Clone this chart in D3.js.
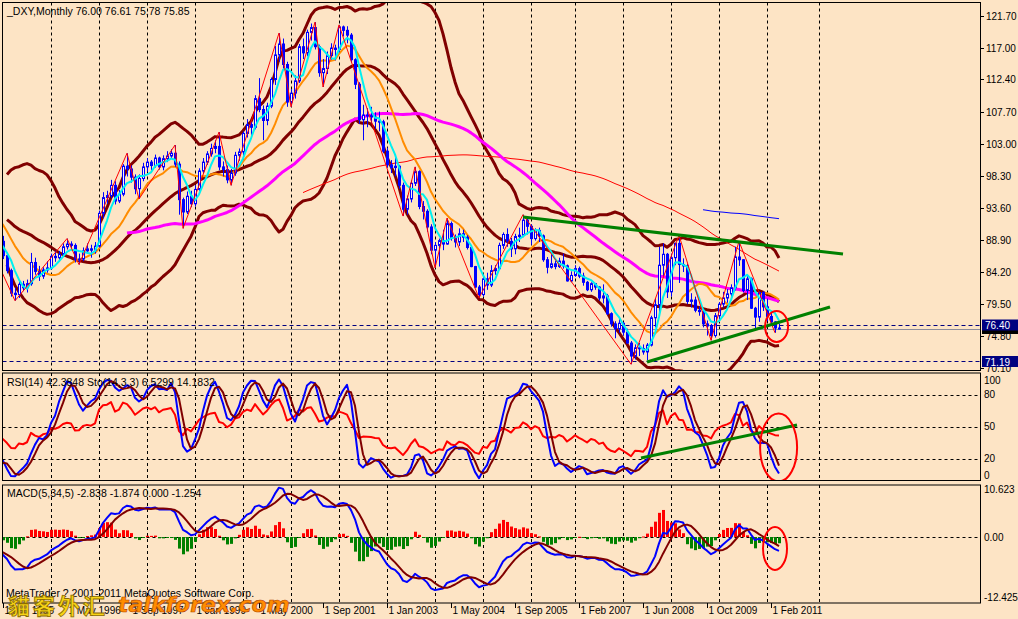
<!DOCTYPE html>
<html><head><meta charset="utf-8">
<script src="https://cdn.jsdelivr.net/npm/d3@7"></script>
<style>body{margin:0;background:#fde4c5;}svg{display:block}</style>
</head><body><svg id="c" width="1018" height="619"></svg>
<script>
// ---- DATA (monthly DXY; first 24 bars are history before the visible window) ----
const PRE = 24;
const opens = [
93.2,93.6,94.6,93.0,89.5,89.3,93.0,95.4,93.1,91.5,93.6,96.0,
96.9,97.2,95.3,94.6,93.4,93.6,89.9,90.5,90.6,88.9,86.5,88.9,
88.7,86.6,84.4,81.1,80.9,82.4,81.9,82.5,85.6,84.3,83.6,84.5,
84.8,86.5,86.3,86.8,87.9,88.3,88.1,86.0,86.1,87.3,87.6,87.4,
88.0,92.8,95.1,95.4,96.9,94.6,95.6,99.7,99.3,98.1,96.4,97.9,
99.6,100.3,99.8,100.9,99.6,100.8,101.2,101.6,100.0,94.8,93.0,95.3,
94.2,96.3,99.0,100.3,101.5,102.3,102.6,99.6,99.2,97.7,98.7,101.3,
101.8,104.5,105.8,105.4,109.6,108.0,106.4,108.5,112.4,116.0,117.6,114.6,
109.1,110.4,112.2,117.2,116.3,119.3,120.0,117.2,113.4,114.0,115.9,117.0,
116.8,120.1,119.6,118.9,115.3,111.7,106.5,107.2,107.1,106.9,106.3,106.2,
101.9,99.9,99.5,99.7,96.9,93.4,94.9,97.2,98.9,93.8,93.1,90.8,
87.4,88.1,88.8,88.3,91.3,89.2,88.6,89.8,89.3,87.8,85.0,82.0,
80.9,83.2,82.3,84.4,84.7,88.1,89.7,88.7,87.6,89.4,89.6,91.8,
90.9,89.1,90.3,89.5,86.0,84.9,85.4,85.0,85.8,85.1,82.9,
83.7,84.7,83.6,82.7,81.6,82.5,82.0,80.4,80.7,78.1,76.6,75.9,
76.7,75.4,73.8,71.9,73.1,73.0,72.5,73.5,77.5,79.4,85.2,86.8,
81.3,86.3,88.4,85.3,85.1,79.9,80.1,78.6,78.4,76.6,76.3,74.9,
77.8,79.5,80.4,81.0,81.9,86.4,86.0,81.5,83.2,78.9,77.6,81.2,
79.1,77.7,76.9,76.00];
const highs = [
94.8,95.9,95.2,93.5,90.6,93.4,96.2,95.6,93.5,94.0,96.6,97.6,
98.1,97.6,96.0,95.0,94.3,93.9,91.4,91.6,90.9,89.2,89.6,89.8,
89.5,87.0,84.7,81.9,83.0,82.9,83.1,87.0,86.3,85.1,84.9,85.8,
86.9,87.3,87.3,88.4,89.1,88.7,88.4,86.9,87.8,88.4,88.2,88.6,
93.2,95.9,96.1,97.7,97.5,96.2,100.0,101.6,99.8,98.5,98.5,100.2,
100.9,100.6,101.4,101.1,101.3,101.9,102.2,102.8,100.4,95.1,96.0,96.1,
96.9,99.4,100.9,101.9,103.0,103.5,104.7,100.4,99.8,99.3,101.8,102.3,
104.8,106.6,106.2,110.1,112.6,108.6,109.0,112.7,117.3,119.2,118.4,115.0,
111.0,113.0,117.6,118.4,119.7,120.6,120.8,117.5,115.4,116.5,117.7,117.5,
120.4,120.3,120.2,119.2,115.5,112.0,108.7,108.2,108.4,107.6,107.7,106.5,
102.4,100.6,101.1,99.9,97.3,95.4,97.6,99.6,99.1,94.6,93.4,91.2,
88.6,89.1,90.4,92.1,91.6,89.7,90.6,90.4,89.6,88.0,85.1,82.3,
83.5,84.1,85.2,85.2,88.5,90.0,90.6,89.2,89.8,90.7,92.6,92.3,
91.2,90.6,90.7,89.7,86.4,87.0,85.9,86.3,86.9,85.3,84.3,
85.2,85.0,84.1,82.9,82.7,82.6,82.1,82.4,81.0,78.3,77.0,77.4,
76.9,75.9,74.1,73.6,73.8,73.6,73.8,77.8,80.4,87.9,88.4,87.0,
86.9,88.5,89.6,86.2,85.4,81.1,80.6,79.2,78.7,77.1,76.6,78.2,
79.8,81.3,81.7,82.4,87.9,88.7,86.1,83.6,83.4,79.1,81.4,81.4,
80.3,78.3,77.0,76.61];
const lows = [
91.9,93.0,92.4,88.9,88.1,88.9,92.8,92.7,90.6,91.1,93.4,95.3,
96.2,94.9,93.8,92.6,92.3,89.6,88.8,89.9,88.4,85.8,86.2,88.1,
86.1,84.0,80.6,80.0,80.4,81.4,81.2,82.2,83.8,82.9,83.2,84.1,
84.5,85.7,85.7,86.5,87.5,87.6,85.6,85.3,85.8,86.9,86.3,86.9,
87.8,92.1,94.2,95.0,94.1,94.3,95.3,98.2,97.3,95.6,94.9,97.5,
98.9,99.1,99.5,99.2,99.1,100.3,100.9,99.6,92.6,90.6,92.7,93.7,
93.8,96.1,98.6,99.9,101.1,101.6,99.1,98.2,97.2,96.9,98.3,100.5,
101.2,103.9,104.3,105.1,107.6,103.5,105.7,108.2,111.6,115.0,114.0,108.4,
108.4,109.6,111.9,115.4,115.8,118.1,116.8,112.8,111.3,113.2,115.3,115.2,
116.4,118.7,117.7,114.9,111.0,105.9,103.5,105.4,106.0,105.2,104.8,101.6,
99.5,98.7,98.2,96.4,92.4,92.6,94.4,96.8,93.4,91.9,90.1,86.8,
84.8,85.0,87.4,88.2,88.8,87.8,88.0,88.6,87.5,84.9,81.9,80.4,
80.6,81.6,82.0,83.8,84.5,87.6,87.9,86.4,86.8,88.6,89.3,89.7,
88.2,88.8,88.6,85.7,84.0,84.7,84.6,84.8,84.7,82.8,82.7,
83.5,83.3,82.2,81.4,81.3,81.6,80.0,79.6,77.9,76.2,74.5,75.3,
74.9,73.7,70.7,71.4,71.9,72.1,71.3,73.3,76.1,78.2,83.6,80.4,
80.6,85.2,82.6,84.2,79.5,79.0,78.3,77.8,76.1,74.9,74.2,74.6,
76.9,79.0,79.7,80.1,81.5,85.1,81.2,80.1,78.8,75.6,76.9,78.5,
77.0,76.3,75.3,75.78];
const closes = [
93.6,94.6,93.0,89.5,89.3,93.0,95.4,93.1,91.5,93.6,96.0,96.9,
97.2,95.3,94.6,93.4,93.6,89.9,90.5,90.6,88.9,86.5,88.9,88.7,
86.6,84.4,81.1,80.9,82.4,81.9,82.5,85.6,84.3,83.6,84.5,84.8,
86.5,86.3,86.8,87.9,88.3,88.1,86.0,86.1,87.3,87.6,87.4,88.0,
92.8,95.1,95.4,96.9,94.6,95.6,99.7,99.3,98.1,96.4,97.9,99.6,
100.3,99.8,100.9,99.6,100.8,101.2,101.6,100.0,94.8,93.0,95.3,94.2,
96.3,99.0,100.3,101.5,102.3,102.6,99.6,99.2,97.7,98.7,101.3,101.8,
104.5,105.8,105.4,109.6,108.0,106.4,108.5,112.4,116.0,117.6,114.6,109.1,
110.4,112.2,117.2,116.3,119.3,120.0,117.2,113.4,114.0,115.9,117.0,116.8,
120.1,119.6,118.9,115.3,111.7,106.5,107.2,107.1,106.9,106.3,106.2,101.9,
99.9,99.5,99.7,96.9,93.4,94.9,97.2,98.9,93.8,93.1,90.8,87.4,
88.1,88.8,88.3,91.3,89.2,88.6,89.8,89.3,87.8,85.0,82.0,80.9,
83.2,82.3,84.4,84.7,88.1,89.7,88.7,87.6,89.4,89.6,91.8,90.9,
89.1,90.3,89.5,86.0,84.9,85.4,85.0,85.8,85.1,82.9,83.7,
84.7,83.6,82.7,81.6,82.5,82.0,80.4,80.7,78.1,76.6,75.9,76.7,
75.4,73.8,71.9,73.1,73.0,72.5,73.5,77.5,79.4,85.2,86.8,81.3,
86.3,88.4,85.3,85.1,79.9,80.1,78.6,78.4,76.6,76.3,74.9,77.8,
79.5,80.4,81.0,81.9,86.4,86.0,81.5,83.2,78.9,77.6,81.2,79.1,
77.7,76.9,76.0,75.85];

const dateLabels = ["1 Jan 1995","1 May 1996","1 Sep 1997","1 Jan 1999","1 May 2000","1 Sep 2001","1 Jan 2003","1 May 2004","1 Sep 2005","1 Feb 2007","1 Jun 2008","1 Oct 2009","1 Feb 2011"];
const dateLabelBars = [0,16,32,48,64,80,96,112,128,144,160,176,192];
const gridBars = [12,24,36,48,60,72,84,96,108,120,132,143,155,167,179,191,204];
const priceTicks = [121.70,117.00,112.40,107.70,103.00,98.30,93.60,88.90,84.20,79.50,74.80,70.10];
const rsiLevels = [80,50,20];
const rsiAxisLabels = [100,80,50,20,0];
const macdAxisLabels = [10.623,0,-12.425];
// zigzag pivots (visible bar index, price)
const zzBars   = [-2,3,16,19,31,34,43,45,54,57,69,72,78,80,84,100,103,108,111,119,130,157,169,177,184,193];
const zzPrices = [86.4,80.0,89.1,85.3,101.6,94.9,102.8,90.6,104.7,96.9,119.2,108.4,120.8,111.3,120.4,92.4,99.6,84.8,92.1,80.4,92.6,70.7,89.6,74.2,88.7,75.3];
// trend lines (bar, value)
const trendUpperBars = [130,210], trendUpperPrices = [92.26,86.84];
const trendLowerBars = [161,206.75], trendLowerPrices = [71.03,79.08];
const rsiTrendBars = [159.5,198.5], rsiTrendValues = [20.9,51.8];
const levelLines = [76.40,71.19];
const bidPrice = 75.85;

// ---- helpers ----
const bg = "#fde4c5";
const N = closes.length;
function sma(a,p){return a.map((_,i)=> i<p-1?null:d3.mean(a.slice(i-p+1,i+1)));}
function ema(a,p){const k=2/(p+1);const r=[];a.forEach((v,i)=>r.push(i===0?v:r[i-1]+k*(v-r[i-1])));return r;}
function bands(a,p,dev){const m=sma(a,p);const up=[],lo=[];
  a.forEach((_,i)=>{if(m[i]==null){up.push(null);lo.push(null);return;}
   const s=a.slice(i-p+1,i+1);const sd=Math.sqrt(d3.mean(s.map(v=>(v-m[i])**2)));
   up.push(m[i]+dev*sd);lo.push(m[i]-dev*sd);});return {m,up,lo};}
function rsi(c,p){const out=Array(c.length).fill(null);let g=0,l=0;
  for(let i=1;i<=p;i++){const d=c[i]-c[i-1];if(d>0)g+=d;else l-=d;}
  g/=p;l/=p;out[p]=l===0?100:100-100/(1+g/l);
  for(let i=p+1;i<c.length;i++){const d=c[i]-c[i-1];g=(g*(p-1)+(d>0?d:0))/p;l=(l*(p-1)+(d<0?-d:0))/p;out[i]=l===0?100:100-100/(1+g/l);}
  return out;}
function stoch(h,l,c,kp,sl,dp){const LL=[],HH=[];
  for(let i=0;i<c.length;i++){if(i<kp-1){LL.push(null);HH.push(null);continue;}
    LL.push(d3.min(l.slice(i-kp+1,i+1)));HH.push(d3.max(h.slice(i-kp+1,i+1)));}
  const k=c.map((_,i)=>{if(i<kp-1+sl-1)return null;let a=0,b=0;for(let j=i-sl+1;j<=i;j++){a+=c[j]-LL[j];b+=HH[j]-LL[j];}return b===0?100:100*a/b;});
  const d=k.map((_,i)=>{const s=k.slice(Math.max(0,i-dp+1),i+1);return (i<dp-1||s.some(v=>v==null))?null:d3.mean(s);});
  return {k,d};}

const bb = bands(closes,26,2);
const maCyan = sma(closes,5), maOrange = sma(closes,13), maMag = sma(closes,56), maRed = sma(closes,100), maBlue = sma(closes,200);
const rsiV = rsi(closes,14);
const st = stoch(highs,lows,closes,14,3,3);
const e5 = ema(closes,5), e34 = ema(closes,34);
const macd = closes.map((_,i)=>e5[i]-e34[i]);
const sig = macd.map((_,i)=> i<4?null:d3.mean(macd.slice(i-4,i+1)));
const hist = macd.map((v,i)=> sig[i]==null?null:(v-sig[i])*1.3);

// ---- layout & scales ----
const svg = d3.select("#c");
const L=2.5, R=980.5;
const x = d3.scaleLinear().domain([0,194]).range([3,779]);
const y = d3.scaleLinear().domain([121.70,76.40]).range([16,325.3]);
const yr = d3.scaleLinear().domain([0,100]).range([480.3,373.6]);
const ym = d3.scaleLinear().domain([0,10.623]).range([537,485.5]);
const panels = {main:[2.5,370.5], rsi:[373,480.5], macd:[485,603]};
const font = "Liberation Sans, Arial, sans-serif";

svg.append("rect").attr("width",1018).attr("height",619).attr("fill",bg);
const defs = svg.append("defs");
Object.entries(panels).forEach(([k,[t,b]])=>{
  defs.append("clipPath").attr("id","clip-"+k).append("rect").attr("x",L).attr("y",t).attr("width",R-L).attr("height",b-t);
});

// vertical grid lines
const grid = svg.append("g").attr("stroke","#000").attr("stroke-width",1).attr("stroke-dasharray","3,3");
Object.values(panels).forEach(([t,b])=>{
  gridBars.forEach(g=>{const gx=Math.round(x(g))+0.5;grid.append("line").attr("x1",gx).attr("x2",gx).attr("y1",t).attr("y2",b);});
});
// horizontal levels
rsiLevels.forEach(v=>svg.append("line").attr("x1",L).attr("x2",R).attr("y1",Math.round(yr(v))+0.5).attr("y2",Math.round(yr(v))+0.5).attr("stroke","#000").attr("stroke-dasharray","3,3"));
svg.append("line").attr("x1",L).attr("x2",R).attr("y1",Math.round(ym(0))+0.5).attr("y2",Math.round(ym(0))+0.5).attr("stroke","#000").attr("stroke-dasharray","3,3");
levelLines.forEach(v=>svg.append("line").attr("x1",L).attr("x2",R).attr("y1",Math.round(y(v))+0.5).attr("y2",Math.round(y(v))+0.5).attr("stroke","#000080").attr("stroke-dasharray","4,3"));
svg.append("line").attr("x1",L).attr("x2",R).attr("y1",Math.round(y(bidPrice))+0.5).attr("y2",Math.round(y(bidPrice))+0.5).attr("stroke","#8c8c9c");

const idx = d3.range(N).filter(i=>i-PRE>=-1);
function series(g, arr, ys, color, w){
  const ln = d3.line().defined(i=>arr[i]!=null).x(i=>x(i-PRE)).y(i=>ys(arr[i]));
  g.append("path").attr("d",ln(idx)).attr("fill","none").attr("stroke",color).attr("stroke-width",w).attr("stroke-linejoin","round");
}

// ---- main panel ----
const gm = svg.append("g").attr("clip-path","url(#clip-main)");
series(gm,bb.up,y,"#800000",3); series(gm,bb.m,y,"#800000",3); series(gm,bb.lo,y,"#800000",3);
series(gm,maRed,y,"#ff0000",1);
series(gm,maBlue,y,"#0000ff",1);
series(gm,maMag,y,"#ff00ff",3);
series(gm,maOrange,y,"#ff8c00",2);
// candles
const cg = gm.append("g");
for(let i=PRE;i<N;i++){
  const cx = Math.round(x(i-PRE));
  cg.append("line").attr("x1",cx+0.5).attr("x2",cx+0.5).attr("y1",y(highs[i])).attr("y2",y(lows[i])).attr("stroke","#0000ff");
  const top=y(Math.max(opens[i],closes[i])), bot=y(Math.min(opens[i],closes[i]));
  const bear = closes[i]<opens[i];
  cg.append("rect").attr("x",cx-0.5).attr("y",top).attr("width",2).attr("height",Math.max(1,bot-top))
    .attr("fill",bear?"#0000ff":"#fff6ee").attr("stroke","#0000ff").attr("stroke-width",1);
}
series(gm,maCyan,y,"#00f0f0",2);
// zigzag
gm.append("path").attr("d",d3.line().x(i=>x(zzBars[i])).y(i=>y(zzPrices[i]))(d3.range(zzBars.length)))
  .attr("fill","none").attr("stroke","#ff0000").attr("stroke-width",1);
// trend lines
[[trendUpperBars,trendUpperPrices],[trendLowerBars,trendLowerPrices]].forEach(([b,p])=>{
  gm.append("line").attr("x1",x(b[0])).attr("y1",y(p[0])).attr("x2",x(b[1])).attr("y2",y(p[1])).attr("stroke","#008000").attr("stroke-width",3);
});
gm.append("ellipse").attr("cx",x(193.4)).attr("cy",y(76.23)).attr("rx",11.5).attr("ry",15.5).attr("fill","none").attr("stroke","#ff0000").attr("stroke-width",2);

// ---- RSI panel ----
const gr = svg.append("g").attr("clip-path","url(#clip-rsi)");
series(gr,rsiV,yr,"#ff0000",2);
series(gr,st.k,yr,"#0000ff",2);
series(gr,st.d,yr,"#800000",2);
gr.append("line").attr("x1",x(rsiTrendBars[0])).attr("y1",yr(rsiTrendValues[0])).attr("x2",x(rsiTrendBars[1])).attr("y2",yr(rsiTrendValues[1])).attr("stroke","#008000").attr("stroke-width",3);
gr.append("ellipse").attr("cx",x(193.9)).attr("cy",yr(30.7)).attr("rx",18.5).attr("ry",34).attr("fill","none").attr("stroke","#ff0000").attr("stroke-width",2);

// ---- MACD panel ----
const gc = svg.append("g").attr("clip-path","url(#clip-macd)");
for(let i=PRE;i<N;i++){ if(hist[i]==null) continue;
  const cx=Math.round(x(i-PRE)); const y0=ym(0), y1=ym(hist[i]);
  gc.append("rect").attr("x",cx-1).attr("width",3).attr("y",Math.min(y0,y1)).attr("height",Math.max(1,Math.abs(y1-y0)))
    .attr("fill",hist[i]>=0?"#ff0000":"#008000");
}
series(gc,macd,ym,"#0000ff",2);
series(gc,sig,ym,"#800000",2);
gc.append("ellipse").attr("cx",x(193.0)).attr("cy",ym(-2.35)).attr("rx",12).attr("ry",21.5).attr("fill","none").attr("stroke","#ff0000").attr("stroke-width",2);

// ---- frames ----
Object.values(panels).forEach(([t,b])=>svg.append("rect").attr("x",L).attr("y",t).attr("width",R-L).attr("height",b-t).attr("fill","none").attr("stroke","#000"));

// ---- axis labels ----
const ax = svg.append("g").attr("font-family",font).attr("font-size","10px").attr("fill","#000");
priceTicks.forEach(p=>{const ty=Math.round(y(p))+0.5;
  ax.append("line").attr("x1",981).attr("x2",984).attr("y1",ty).attr("y2",ty).attr("stroke","#000");
  ax.append("text").attr("x",986).attr("y",ty+3.5).text(p.toFixed(2));});
// price boxes
svg.append("rect").attr("x",982).attr("y",329).attr("width",36).attr("height",5).attr("fill","#000");
[[76.40,319.5],[71.19,356]].forEach(([v,ty])=>{
  svg.append("rect").attr("x",982).attr("y",ty).attr("width",36).attr("height",11).attr("fill","#000080");
  svg.append("text").attr("x",985).attr("y",ty+9.5).attr("font-family",font).attr("font-size","10px").attr("fill","#fff").text(v.toFixed(2));
});
rsiAxisLabels.forEach(v=>{let ty=yr(v); if(v===100) ty=380; if(v===0) ty=475;
  ax.append("text").attr("x",984).attr("y",ty+3.5).text(v);});
macdAxisLabels.forEach(v=>{let ty=ym(v); if(v>5) ty=489; if(v<-5) ty=597;
  ax.append("text").attr("x",984).attr("y",ty+3.5).text(v===0?"0.00":v.toFixed(3));});
// date axis
dateLabels.forEach((t,i)=>{const tx=Math.round(x(dateLabelBars[i]))+0.5;
  ax.append("line").attr("x1",tx).attr("x2",tx).attr("y1",603).attr("y2",608).attr("stroke","#000");
  ax.append("text").attr("x",tx+1).attr("y",614).text(t);});

// ---- legends ----
const lg = svg.append("g").attr("font-family",font).attr("font-size","10.5px").attr("fill","#000");
lg.append("text").attr("x",7).attr("y",15).text("_DXY,Monthly  76.00 76.61 75.78 75.85");
lg.append("text").attr("x",7).attr("y",386).text("RSI(14) 42.3848  Sto(14,3,3) 6.5299 14.1832");
lg.append("text").attr("x",7).attr("y",497).text("MACD(5,34,5) -2.838 -1.874 0.000 -1.254");
lg.append("text").attr("x",6).attr("y",597).text("MetaTrader ? 2001-2011 MetaQuotes Software Corp.");
// watermark
svg.append("text").attr("x",8).attr("y",614).attr("font-family","Noto Sans CJK SC").attr("font-weight","bold").attr("font-size","22px")
  .attr("fill","#f7d417").attr("stroke","#8a6a00").attr("stroke-width",0.8).attr("letter-spacing","3px").text("貓客外汇");
svg.append("text").attr("x",118).attr("y",612).attr("font-family","DejaVu Sans").attr("font-style","italic").attr("font-weight","bold").attr("font-size","22px")
  .attr("fill","#ff8c00").attr("stroke","#b04000").attr("stroke-width",0.6).text("talkforex.com");
</script></body></html>
